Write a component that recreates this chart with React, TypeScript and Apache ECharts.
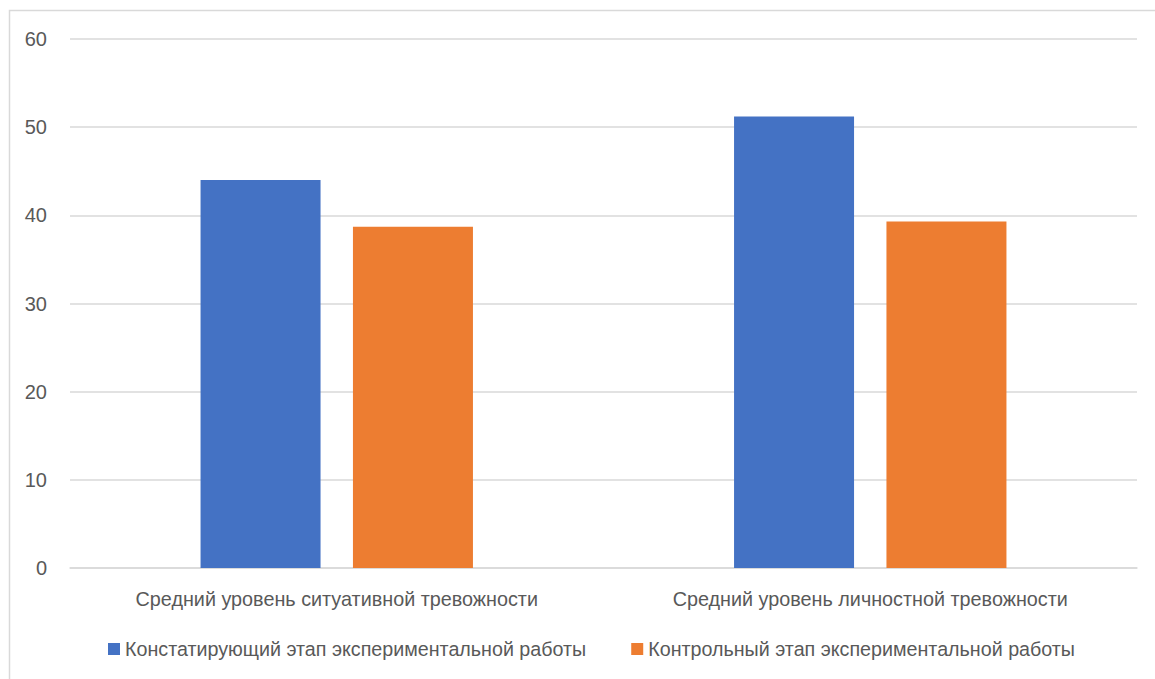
import React, { useEffect, useRef } from "react";
import * as echarts from "echarts";

const categories = [
  "Средний уровень ситуативной тревожности",
  "Средний уровень личностной тревожности",
];
const seriesNames = [
  "Констатирующий этап экспериментальной работы",
  "Контрольный этап экспериментальной работы",
];
const ascertainingValues = [44.0, 51.2];
const controlValues = [38.7, 39.3];
const colors = ["#4472C4", "#ED7D31"];

const FONT = "'Liberation Sans', Arial, sans-serif";

export default function App() {
  const ref = useRef<HTMLDivElement>(null);

  useEffect(() => {
    if (!ref.current) return;
    const chart = echarts.init(ref.current, null, { renderer: "svg" });
    chart.setOption({
      animation: false,
      backgroundColor: "#ffffff",
      textStyle: { fontFamily: FONT },
      graphic: [
        {
          type: "rect",
          shape: { x: 9.5, y: 10.5, width: 1160, height: 680 },
          style: { fill: "none", stroke: "#d9d9d9", lineWidth: 1.5 },
          silent: true,
        },
      ],
      grid: { left: 70, right: 18, top: 39, bottom: 111 },
      legend: {
        left: 108,
        top: 639,
        padding: 0,
        itemWidth: 12,
        itemHeight: 12,
        itemGap: 45,
        icon: "rect",
        textStyle: { fontFamily: FONT, fontSize: 19.7, color: "#595959" },
        data: seriesNames,
      },
      xAxis: {
        type: "category",
        data: categories,
        axisLine: { lineStyle: { color: "#d9d9d9", width: 1.5 } },
        axisTick: { show: false },
        axisLabel: {
          fontFamily: FONT,
          fontSize: 19.8,
          color: "#595959",
          margin: 21,
          interval: 0,
        },
      },
      yAxis: {
        type: "value",
        min: 0,
        max: 60,
        interval: 10,
        axisLine: { show: false },
        axisTick: { show: false },
        splitLine: { lineStyle: { color: "#d9d9d9", width: 1.5 } },
        axisLabel: { fontFamily: FONT, fontSize: 20, color: "#595959", margin: 23 },
      },
      series: [
        {
          name: seriesNames[0],
          type: "bar",
          data: ascertainingValues,
          barWidth: 120,
          barGap: "27%",
          itemStyle: { color: colors[0] },
        },
        {
          name: seriesNames[1],
          type: "bar",
          data: controlValues,
          barWidth: 120,
          barGap: "27%",
          itemStyle: { color: colors[1] },
        },
      ],
    });
    return () => chart.dispose();
  }, []);

  return (
    <div
      ref={ref}
      style={{ position: "absolute", left: 0, top: 0, width: 1155, height: 679 }}
    />
  );
}
